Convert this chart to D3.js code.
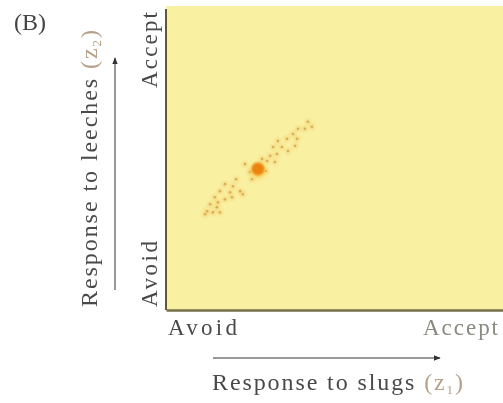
<!DOCTYPE html>
<html>
<head>
<meta charset="utf-8">
<script src="https://cdn.jsdelivr.net/npm/d3@7"></script>
<style>
  html, body { margin: 0; padding: 0; background: #fff; }
  svg { display: block; }
  text { font-family: "Liberation Serif", "DejaVu Serif", serif; }
</style>
</head>
<body>
<svg id="chart" width="503" height="403"></svg>
<script>
// Individual responses (z1 = slugs, z2 = leeches), 0 = avoid, 100 = accept
const slugResponse = [23.4, 24.9, 17.5, 19.9, 16.0, 22.0, 19.0, 22.8, 14.5, 17.5, 19.6, 13.1, 15.4, 15.1, 12.2, 13.9, 11.6, 16.0,
                      42.1, 41.2, 39.2, 37.7, 38.9, 35.9, 33.2, 38.3, 34.4, 31.8, 36.2, 32.9, 30.9, 30.0, 32.3, 43.3, 25.5, 20.8, 28.5, 29.7];
const leechResponse = [48.0, 45.4, 41.4, 40.7, 39.1, 39.1, 38.7, 38.1, 37.1, 36.4, 37.1, 34.8, 35.4, 33.8, 32.5, 32.1, 31.5, 32.1,
                       61.9, 59.6, 59.6, 57.9, 56.3, 56.3, 55.6, 54.0, 53.6, 53.6, 52.3, 51.3, 50.7, 49.0, 48.7, 60.3, 43.0, 43.0, 49.7, 45.7];
// Population mean
const meanSlug = [27.3];
const meanLeech = [46.4];
// Axis end labels
const axisEnds = ["Avoid", "Accept"];

const svg = d3.select("#chart");
const plotLeft = 166, plotRight = 503, plotTop = 6, plotBottom = 310;

const x = d3.scaleLinear().domain([0, 100]).range([plotLeft, plotRight]);
const y = d3.scaleLinear().domain([0, 100]).range([plotBottom, plotTop]);

const defs = svg.append("defs");
defs.append("filter").attr("id", "soft").attr("x", "-50%").attr("y", "-50%").attr("width", "200%").attr("height", "200%")
  .append("feGaussianBlur").attr("stdDeviation", 1.2);
defs.append("filter").attr("id", "glow").attr("x", "-100%").attr("y", "-100%").attr("width", "300%").attr("height", "300%")
  .append("feGaussianBlur").attr("stdDeviation", 2.5);
defs.append("filter").attr("id", "textsoft")
  .append("feGaussianBlur").attr("stdDeviation", 0.35);
const mk = defs.append("marker").attr("id", "arrow").attr("viewBox", "0 0 10 10")
  .attr("refX", 9).attr("refY", 5).attr("markerWidth", 7).attr("markerHeight", 7)
  .attr("markerUnits", "userSpaceOnUse").attr("orient", "auto");
mk.append("path").attr("d", "M0,1 L10,5 L0,9 Z").attr("fill", "#333");

// Plot background
svg.append("rect")
  .attr("x", x(0)).attr("y", y(100))
  .attr("width", x(100) - x(0)).attr("height", y(0) - y(100))
  .attr("fill", "#f9f0a2");

// Axes (domain lines only)
const xAxis = d3.axisBottom(x).tickValues([]).tickSizeOuter(0);
const yAxis = d3.axisLeft(y).tickValues([]).tickSizeOuter(0);
svg.append("g").attr("transform", `translate(0,${plotBottom})`).call(xAxis)
  .select(".domain").attr("stroke", "#76704a").attr("stroke-width", 2.5);
svg.append("g").attr("transform", `translate(${plotLeft},0)`).call(yAxis)
  .select(".domain").attr("stroke", "#5e5936").attr("stroke-width", 2)
  .attr("d", `M0,${y(99)}V${plotBottom}`);

// Individuals: halo then dot
const pts = slugResponse.map((v, i) => ({ z1: v, z2: leechResponse[i] }));
const cloud = svg.append("g");
cloud.selectAll("circle.halo").data(pts).join("circle")
  .attr("class", "halo")
  .attr("cx", d => x(d.z1)).attr("cy", d => y(d.z2)).attr("r", 3.4)
  .attr("fill", "#f3c96a").attr("opacity", 0.4).attr("filter", "url(#soft)");
cloud.selectAll("circle.dot").data(pts).join("circle")
  .attr("class", "dot")
  .attr("cx", d => x(d.z1)).attr("cy", d => y(d.z2)).attr("r", 1.3)
  .attr("fill", "#c8953a").attr("opacity", 0.65);

// Mean
svg.append("circle")
  .attr("cx", x(meanSlug[0])).attr("cy", y(meanLeech[0]) + 2).attr("r", 8)
  .attr("fill", "#f7d35a").attr("opacity", 0.8).attr("filter", "url(#glow)");
svg.append("circle")
  .attr("cx", x(meanSlug[0])).attr("cy", y(meanLeech[0])).attr("r", 6.5)
  .attr("fill", "#ea8410").attr("filter", "url(#soft)");

const labels = svg.append("g").attr("filter", "url(#textsoft)");

// Panel label
labels.append("text").attr("x", 14).attr("y", 30)
  .attr("font-size", 24).attr("fill", "#444").text("(B)");

// X end labels
labels.append("text").attr("x", 168).attr("y", 335).attr("font-size", 23)
  .attr("fill", "#4a4a4a").attr("textLength", 69).attr("lengthAdjust", "spacing").text(axisEnds[0]);
labels.append("text").attr("x", 498).attr("y", 335).attr("font-size", 23).attr("text-anchor", "end")
  .attr("fill", "#8a8a80").attr("textLength", 75).attr("lengthAdjust", "spacing").text(axisEnds[1]);

// Y end labels (rotated)
labels.append("text").attr("transform", "translate(157,307) rotate(-90)").attr("font-size", 23)
  .attr("fill", "#4a4a4a").attr("textLength", 66).attr("lengthAdjust", "spacing").text(axisEnds[0]);
labels.append("text").attr("transform", "translate(157,12) rotate(-90)").attr("font-size", 23).attr("text-anchor", "end")
  .attr("fill", "#4a4a4a").attr("textLength", 76).attr("lengthAdjust", "spacing").text(axisEnds[1]);

// Direction arrows
svg.append("line").attr("x1", 213).attr("y1", 358).attr("x2", 440).attr("y2", 358)
  .attr("stroke", "#777").attr("stroke-width", 1.5).attr("marker-end", "url(#arrow)");
svg.append("line").attr("x1", 115).attr("y1", 290).attr("x2", 115).attr("y2", 58)
  .attr("stroke", "#777").attr("stroke-width", 1.5).attr("marker-end", "url(#arrow)");

// Axis titles
const xt = labels.append("text").attr("x", 212).attr("y", 390).attr("font-size", 24)
  .attr("fill", "#4a4a4a").attr("textLength", 251).attr("lengthAdjust", "spacing");
xt.append("tspan").text("Response to slugs ");
xt.append("tspan").attr("fill", "#b5a08a").text("(z");
xt.append("tspan").attr("fill", "#b5a08a").attr("font-size", 13).attr("dy", 4).text("1");
xt.append("tspan").attr("fill", "#b5a08a").attr("dy", -4).text(")");

const yt = labels.append("text").attr("transform", "translate(97,307) rotate(-90)").attr("font-size", 24)
  .attr("fill", "#4a4a4a").attr("textLength", 277).attr("lengthAdjust", "spacing");
yt.append("tspan").text("Response to leeches ");
yt.append("tspan").attr("fill", "#b5a08a").text("(z");
yt.append("tspan").attr("fill", "#b5a08a").attr("font-size", 13).attr("dy", 4).text("2");
yt.append("tspan").attr("fill", "#b5a08a").attr("dy", -4).text(")");
</script>
</body>
</html>
